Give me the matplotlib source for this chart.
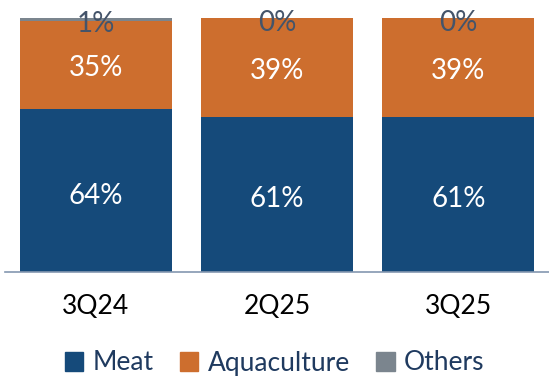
import matplotlib
matplotlib.use("Agg")
import matplotlib.pyplot as plt
import numpy as np
from matplotlib.patches import Patch

# data (share of revenue, %)
quarters = ["3Q24", "2Q25", "3Q25"]
meat = [64, 61, 61]
aquaculture = [35, 39, 39]
others = [1, 0.4, 0]

COLORS = {"Meat": "#154A7A", "Aquaculture": "#CD6E2E", "Others": "#7B858E"}
FONT = "Lato"

plt.rcParams["font.family"] = [FONT, "DejaVu Sans"]

fig = plt.figure(figsize=(5.49, 3.79), dpi=100)
ax = fig.add_axes([5 / 549, 1 - 272 / 379, 544 / 549, (272 - 18) / 379])

x = np.arange(len(quarters))
width = 0.84
meat_a = np.array(meat, dtype=float)
aqua_a = np.array(aquaculture, dtype=float)
oth_a = np.array(others, dtype=float)

ax.bar(x, meat_a, width, color=COLORS["Meat"])
ax.bar(x, aqua_a, width, bottom=meat_a, color=COLORS["Aquaculture"])
ax.bar(x, oth_a, width, bottom=meat_a + aqua_a, color=COLORS["Others"])

lbl = dict(ha="center", va="center_baseline", fontsize=20)
for i in range(len(quarters)):
    ax.text(x[i], meat_a[i] / 2 - 0.9, f"{round(meat_a[i])}%", color="white", **lbl)
    ax.text(x[i], meat_a[i] + aqua_a[i] / 2 - 0.3, f"{round(aqua_a[i])}%",
            color="white", **lbl)
    ax.text(x[i], meat_a[i] + aqua_a[i] + oth_a[i] / 2 - 1.0, f"{round(oth_a[i])}%",
            color="#44546A", **lbl)

ax.set_xlim(-0.5, len(quarters) - 0.5)
ax.set_ylim(0, 100)
ax.set_xticks(x)
ax.set_xticklabels(quarters, fontsize=19, color="black")
ax.tick_params(axis="x", length=0, pad=16)
ax.set_yticks([])
for side in ["top", "left", "right"]:
    ax.spines[side].set_visible(False)
ax.spines["bottom"].set_color("#8497B0")
ax.spines["bottom"].set_linewidth(1.2)

handles = [Patch(color=COLORS[k], label=k) for k in ["Meat", "Aquaculture", "Others"]]
leg = fig.legend(handles=handles, loc="center", bbox_to_anchor=(0.5, 1 - 363 / 379),
                 ncol=3, frameon=False, fontsize=19, handlelength=0.7,
                 handleheight=0.7, handletextpad=0.35, columnspacing=1.0)
for t in leg.get_texts():
    t.set_color("#1F3A5F")

fig.savefig("out.png", dpi=100)
